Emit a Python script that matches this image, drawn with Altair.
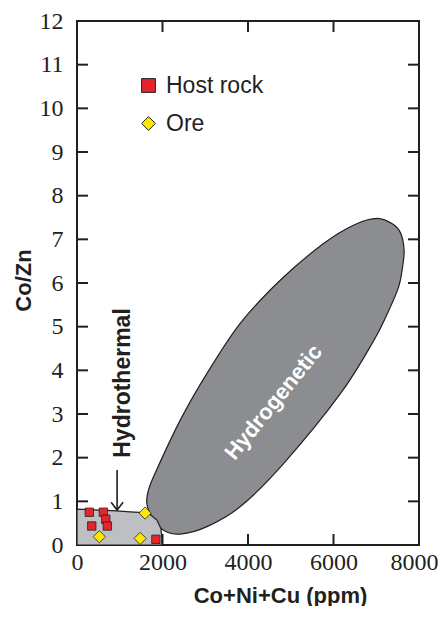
import altair as alt
import pandas as pd

# ---------------- data ----------------
host_x = [288, 617, 673, 345, 710, 1845]
host_y = [0.75, 0.75, 0.59, 0.435, 0.435, 0.13]
ore_x = [523, 1477, 1594]
ore_y = [0.19, 0.15, 0.73]

hydrothermal_x = [0, 0, 931, 1243, 1555, 1712, 1869, 1962, 1986, 1986]
hydrothermal_y = [0, 0.82, 0.78, 0.76, 0.74, 0.70, 0.57, 0.38, 0.15, 0]

hydrogenetic_x = [7027, 7416, 7573, 7651, 7620, 7520, 7250, 6947, 6166, 4837, 3822, 3041,
                  2415, 2023, 1751, 1634, 1672, 1829, 2415, 3041, 3822, 4760, 5775, 6478]
hydrogenetic_y = [7.48, 7.33, 7.14, 6.76, 6.40, 5.90, 5.28, 4.69, 3.47, 1.87, 0.88, 0.42,
                  0.25, 0.34, 0.65, 0.95, 1.26, 1.65, 2.86, 3.93, 5.08, 6.07, 6.91, 7.33]

arrow_x = [938]
arrow_y = [1.72]
arrow_tip_y = [0.80]

label_text = ["Hydrothermal", "Hydrogenetic"]
label_x = [1079, 4596]
label_y = [3.71, 3.27]

x_ticks = [0, 2000, 4000, 6000, 8000]
y_ticks = list(range(0, 13))
x_inner_ticks = [2000, 4000, 6000]
y_inner_ticks = list(range(1, 12))

# ---------------- styling ----------------
W, H = 342, 524
INK = "#231f20"
TL = 11
SERIF = "'Liberation Serif', 'Times New Roman', Times, serif"
SANS = "'Liberation Sans', Arial, Helvetica, sans-serif"

host = pd.DataFrame({"x": host_x, "y": host_y, "type": ["Host rock"] * len(host_x)})
ore = pd.DataFrame({"x": ore_x, "y": ore_y, "type": ["Ore"] * len(ore_x)})
hydro_t = pd.DataFrame({"x": hydrothermal_x, "y": hydrothermal_y, "i": range(len(hydrothermal_x))})
hydro_g = pd.DataFrame({"x": hydrogenetic_x, "y": hydrogenetic_y, "i": range(len(hydrogenetic_x))})
arrow = pd.DataFrame({"x": arrow_x, "y": arrow_y, "y2": arrow_tip_y})
labels = pd.DataFrame({"t": label_text, "x": label_x, "y": label_y})
xt = pd.DataFrame({"x": x_inner_ticks})
yt = pd.DataFrame({"y": y_inner_ticks})

xscale = alt.Scale(domain=[0, 8000], nice=False, zero=False)
yscale = alt.Scale(domain=[0, 12], nice=False, zero=False)

xaxis = alt.Axis(values=x_ticks, labelExpr="format(datum.value, '.0f')",
                 labelFont=SERIF, labelFontSize=24,
                 labelAlign={"condition": {"test": "datum.value == 8000", "value": "right"}, "value": "center"},
                 labelOffset={"condition": {"test": "datum.value == 8000", "value": 19}, "value": 0},
                 title="Co+Ni+Cu (ppm)", titleX=203, titleY=57,
                 titleAlign="center", titleBaseline="alphabetic", labelPadding=5)
yaxis = alt.Axis(values=y_ticks, labelExpr="format(datum.value, '.0f')",
                 labelFont=SERIF, labelFontSize=24,
                 title="Co/Zn", titleX=-47, titleY=259,
                 titleAngle=270, titleAlign="center", titleBaseline="alphabetic",
                 labelPadding=14)

XE = alt.X("x:Q", scale=xscale, axis=xaxis)
YE = alt.Y("y:Q", scale=yscale, axis=yaxis)

gen = alt.Chart(hydro_g).mark_line(
    interpolate="cardinal-closed", fill="#8c8d90", stroke=INK, strokeWidth=1.2
).encode(x=XE, y=YE, order=alt.Order("i:Q"))

therm = alt.Chart(hydro_t).mark_line(
    interpolate="linear-closed", fill="#bebfc2", stroke=INK, strokeWidth=1.2
).encode(x=XE, y=YE, order=alt.Order("i:Q"))

arrow_line = alt.Chart(arrow).mark_rule(color=INK, strokeWidth=1.6).encode(
    x=XE, y=YE, y2="y2:Q")
arrow_head = alt.Chart(arrow).mark_point(
    shape="M-1,-1.3L0,0L1,-1.3", size=144, filled=False, color=INK, strokeWidth=1.6, opacity=1
).encode(x=XE, y=alt.Y("y2:Q", scale=yscale, axis=yaxis))

lab_therm = alt.Chart(labels[labels.t == "Hydrothermal"]).mark_text(
    angle=270, font=SANS, fontSize=23, fontWeight="bold", color=INK,
    align="center", baseline="middle"
).encode(x=XE, y=YE, text="t:N")
lab_gen = alt.Chart(labels[labels.t == "Hydrogenetic"]).mark_text(
    angle=309, font=SANS, fontSize=22, fontWeight="bold", color="white",
    align="center", baseline="middle"
).encode(x=XE, y=YE, text="t:N")

legend = alt.Legend(orient="none", legendX=60, legendY=53, title=None, symbolSize=190,
                    labelFont=SANS, labelFontSize=23, labelColor=INK,
                    labelOffset=6, rowPadding=14, padding=0,
                    symbolStrokeColor=INK, symbolStrokeWidth=1)
cscale = alt.Scale(domain=["Host rock", "Ore"], range=["#e4252c", "#ffe800"])
sscale = alt.Scale(domain=["Host rock", "Ore"], range=["square", "diamond"])

host_pts = alt.Chart(host).mark_point(filled=True, opacity=1, size=70, stroke=INK, strokeWidth=0.8).encode(
    x=XE, y=YE,
    color=alt.Color("type:N", scale=cscale, legend=legend),
    shape=alt.Shape("type:N", scale=sscale, legend=legend),
)
ore_pts = alt.Chart(ore).mark_point(filled=True, opacity=1, size=150, stroke=INK, strokeWidth=0.8).encode(
    x=XE, y=YE,
    color=alt.Color("type:N", scale=cscale, legend=legend),
    shape=alt.Shape("type:N", scale=sscale, legend=legend),
)

left_t = alt.Chart(yt).mark_rule(color=INK, strokeWidth=2).encode(
    y=YE, x=alt.value(0), x2=alt.value(TL))
right_t = alt.Chart(yt).mark_rule(color=INK, strokeWidth=2).encode(
    y=YE, x=alt.value(W - TL), x2=alt.value(W))
bottom_t = alt.Chart(xt).mark_rule(color=INK, strokeWidth=2).encode(
    x=XE, y=alt.value(H - TL), y2=alt.value(H))
top_t = alt.Chart(xt).mark_rule(color=INK, strokeWidth=2).encode(
    x=XE, y=alt.value(0), y2=alt.value(TL))

chart = alt.layer(
    gen, therm, arrow_line, arrow_head, lab_therm, lab_gen, host_pts, ore_pts,
    left_t, right_t, bottom_t, top_t
).properties(
    width=W, height=H, autosize="none",
    padding={"left": 69, "top": 13, "right": 19, "bottom": 61},
    background="white",
).configure_view(
    stroke=INK, strokeWidth=2
).configure_axis(
    ticks=False, domain=False, grid=False, labelFlush=False,
    labelFont=SERIF, labelFontSize=24, labelColor=INK,
    titleFont=SANS, titleFontSize=22, titleFontWeight="bold", titleColor=INK,
)

chart.save("out.html", embed_options={"renderer": "svg", "actions": False})
